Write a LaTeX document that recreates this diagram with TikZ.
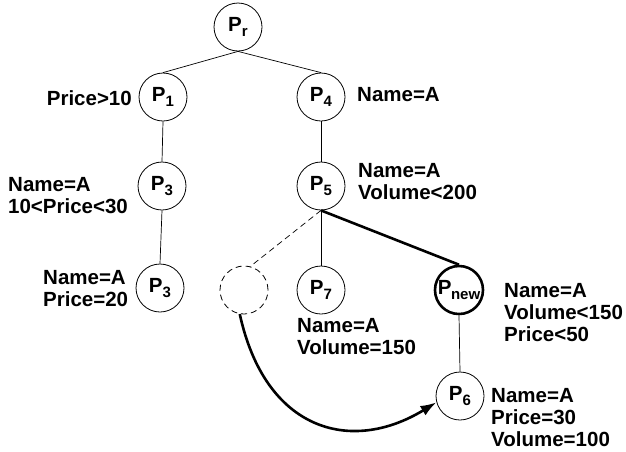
\documentclass[tikz,border=0pt]{standalone}
\usepackage{fontspec}
\setmainfont{Liberation Sans}
\usetikzlibrary{arrows.meta}
\newcommand\psub[1]{\raisebox{-5pt}{\fontsize{15}{15}\selectfont #1}}
\begin{document}
\begin{tikzpicture}[x=1pt,y=-1pt,
  pnode/.style={circle, draw, line width=0.8pt, minimum size=48pt, inner sep=0pt,
    font=\bfseries\fontsize{20.5}{22}\selectfont},
  lbl/.style={font=\bfseries\fontsize{20.5}{22}\selectfont, align=left, inner sep=0pt, anchor=north west},
  edgeline/.style={line width=0.7pt},
  dashline/.style={dash pattern=on 6pt off 4pt},
  boldedge/.style={line width=2.6pt}]
\useasboundingbox (0,0) rectangle (626,451);
% nodes
\node[pnode] (pr) at (238,27) {P\psub{r}};
\node[pnode] (p1) at (163,97) {P\psub{1}};
\node[pnode] (p4) at (321,97) {P\psub{4}};
\node[pnode] (p3a) at (162,186) {P\psub{3}};
\node[pnode] (p5) at (321,186) {P\psub{5}};
\node[pnode] (p3b) at (160,288) {P\psub{3}};
\node[pnode, dashline] (pd) at (244,290) {};
\node[pnode] (p7) at (321,290) {P\psub{7}};
\node[pnode, line width=2.6pt] (pnew) at (459,290) {P\kern-0.5pt\psub{new}};
\node[pnode] (p6) at (460,396) {P\psub{6}};
% labels
\node[lbl, anchor=north east] (l1) at (132,90) {Price>10};
\node[lbl] (l3a) at (8,177) {Name=A\\10<Price<30};
\node[lbl] (l3b) at (43,270) {Name=A\\Price=20};
\node[lbl] (l4) at (357,87) {Name=A};
\node[lbl] (l5) at (358,163) {Name=A\\Volume<200};
\node[lbl] (l7) at (297,318) {Name=A\\Volume=150};
\node[lbl] (lnew) at (504,283) {Name=A\\Volume<150\\Price<50};
\node[lbl] (l6) at (491,388) {Name=A\\Price=30\\Volume=100};
% edges
\draw[edgeline] (pr.south) -- (p1.north);
\draw[edgeline] (pr.south) -- (p4.north);
\draw[edgeline] (p1.south) -- (p3a.north);
\draw[edgeline] (p3a.south) -- (p3b.north);
\draw[edgeline] (p4.south) -- (p5.north);
\draw[edgeline] (p5.south) -- (p7.north);
\draw[edgeline, dashline] (p5.south) -- (pd.75);
\draw[boldedge] (p5.south) -- (pnew.north);
\draw[edgeline] (pnew.south) -- (p6.north);
\draw[boldedge, -{Latex[length=16pt,width=11pt]}] (pd.-100) .. controls (265,430) and (350,455) .. (p6.195);
\end{tikzpicture}
\end{document}
